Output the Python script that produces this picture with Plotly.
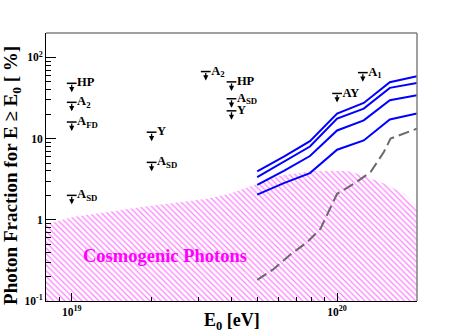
import math
import plotly.graph_objects as go

# ---------------- data ----------------
# cosmogenic photon band (upper edge), E in eV, fraction in %
energy_cosmo = [8.0e18, 1.01e19, 1.81e19, 3.23e19, 3.96e19, 5.0e19, 6.1e19,
                8.1e19, 1.09e20, 1.23e20, 1.5e20, 1.78e20, 2.0e20]
frac_cosmo = [0.89, 1.08, 1.43, 1.82, 2.11, 2.8, 3.52,
              3.98, 3.98, 3.6, 2.8, 2.11, 1.42]

# projected limits (blue lines)
energy_lines = [5.0e19, 6.3e19, 7.9e19, 1.0e20, 1.26e20, 1.58e20, 2.0e20]
line_a = [3.95, 6.0, 9.3, 20.4, 27.5, 49.5, 58.7]
line_b = [3.36, 5.2, 8.0, 17.7, 23.4, 42.2, 48.5]
line_c = [2.7, 4.0, 6.1, 12.6, 16.8, 29.7, 34.3]
line_d = [2.04, 2.83, 3.76, 7.3, 9.5, 17.2, 20.4]

# dashed grey curve
energy_dash = [5.0e19, 5.77e19, 6.67e19, 7.71e19, 8.65e19, 9.29e19, 1.0e20,
               1.156e20, 1.337e20, 1.50e20, 1.59e20, 2.0e20]
frac_dash = [0.182, 0.248, 0.373, 0.529, 0.774, 1.24, 2.09,
             2.78, 3.87, 6.84, 10.0, 13.3]

# upper limits
ul_energy = [1e19, 1e19, 1e19, 1e19, 2e19, 2e19, 3.2e19, 4e19, 4e19, 4e19, 1e20, 1.25e20]
ul_frac = [48, 28, 16, 2.0, 12, 5.1, 67, 50, 31, 22, 36, 65]
ul_label = ["HP", "A<sub>2</sub>", "A<sub>FD</sub>", "A<sub>SD</sub>", "Y",
            "A<sub>SD</sub>", "A<sub>2</sub>", "HP", "A<sub>SD</sub>", "Y",
            "AY", "A<sub>1</sub>"]

x_ticks = [1e19, 1e20]
x_ticktext = ["10<sup>19</sup>", "10<sup>20</sup>"]
y_ticks = [0.1, 1, 10, 100]
y_ticktext = ["10<sup>-1</sup>", "1", "10", "10<sup>2</sup>"]
x_minor = [9e18] + [k * 1e19 for k in range(2, 10)] + [2e20]
y_minor = [k * 0.1 for k in range(2, 10)] + [k * 1.0 for k in range(2, 10)] + \
          [k * 10.0 for k in range(2, 10)] + [200]

x_range = [8e18, 2e20]
y_range = [0.1, 200]

SERIF = "Liberation Serif"

fig = go.Figure()

# hatched cosmogenic region
fig.add_trace(go.Scatter(
    x=energy_cosmo + [energy_cosmo[-1], energy_cosmo[0]],
    y=frac_cosmo + [y_range[0], y_range[0]],
    mode="lines", fill="toself", line=dict(width=0),
    fillcolor="rgba(0,0,0,0)",
    fillpattern=dict(shape="\\", fgcolor="#ff00ff", bgcolor="rgba(255,255,255,0)",
                     size=4, solidity=0.3),
    hoverinfo="skip", showlegend=False))

# dashed curve
fig.add_trace(go.Scatter(x=energy_dash, y=frac_dash, mode="lines",
                         line=dict(color="#6a6a6a", width=2, dash="11px,5px"),
                         showlegend=False, hoverinfo="skip"))

for vals in (line_a, line_b, line_c, line_d):
    fig.add_trace(go.Scatter(x=energy_lines, y=vals, mode="lines",
                             line=dict(color="#0000ff", width=2),
                             showlegend=False, hoverinfo="skip"))

# upper limit bars + labels
fig.add_trace(go.Scatter(
    x=ul_energy, y=ul_frac, mode="markers+text",
    marker=dict(symbol="line-ew", size=7, line=dict(width=1.5, color="black"), color="black"),
    text=ul_label, textposition="middle right",
    textfont=dict(family=SERIF, size=12.5, color="black", weight="bold"),
    showlegend=False, hoverinfo="skip"))

annotations = []
for e, f in zip(ul_energy, ul_frac):
    annotations.append(dict(
        x=math.log10(e), y=math.log10(f), xref="x", yref="y",
        text="", showarrow=True,
        ax=0, ay=-9, axref="pixel", ayref="pixel", yshift=-9,
        arrowhead=2, arrowsize=0.8, arrowwidth=1.3, arrowcolor="black"))

annotations.append(dict(
    x=math.log10(2.25e19), y=math.log10(0.36), xref="x", yref="y",
    text="Cosmogenic Photons", showarrow=False,
    font=dict(family=SERIF, size=18.5, color="#ff00ff", weight="bold")))

annotations.append(dict(
    x=-0.092, y=0.47, xref="paper", yref="paper",
    text="Photon Fraction for E ≥ E<sub>0</sub> [ %]", textangle=-90,
    showarrow=False, xanchor="center", yanchor="middle",
    font=dict(family=SERIF, size=19, color="black", weight="bold")))

annotations.append(dict(
    x=0.501, y=-0.075, xref="paper", yref="paper",
    text="E<sub>0</sub> [eV]", showarrow=False, xanchor="center", yanchor="middle",
    font=dict(family=SERIF, size=18, color="black", weight="bold")))

fig.update_layout(
    width=463, height=333,
    margin=dict(l=46, r=46, t=33, b=32, autoexpand=False),
    paper_bgcolor="white", plot_bgcolor="white",
    font=dict(family=SERIF),
    annotations=annotations,
    shapes=[
        dict(type="line", xref="paper", yref="paper", x0=0, x1=1, y0=1, y1=1,
             line=dict(color="#808080", width=1.5)),
        dict(type="line", xref="paper", yref="paper", x0=1, x1=1, y0=0, y1=1,
             line=dict(color="#808080", width=1.5)),
    ],
)

fig.update_xaxes(
    type="log", range=[math.log10(x_range[0]), math.log10(x_range[1])],
    showgrid=False, zeroline=False, showline=True, linecolor="black", linewidth=1,
    ticks="inside", ticklen=8, tickcolor="black", tickwidth=1,
    tickvals=x_ticks, ticktext=x_ticktext, automargin=False,
    tickfont=dict(family=SERIF, size=11.5, color="black", weight="bold"),
    minor=dict(tickvals=x_minor, ticks="inside", ticklen=4, tickcolor="black", showgrid=False),
)
fig.update_yaxes(
    type="log", range=[math.log10(y_range[0]), math.log10(y_range[1])],
    showgrid=False, zeroline=False, showline=True, linecolor="black", linewidth=1,
    ticks="inside", ticklen=10, tickcolor="black", tickwidth=1,
    tickvals=y_ticks, ticktext=y_ticktext, automargin=False,
    tickfont=dict(family=SERIF, size=11.5, color="black", weight="bold"),
    minor=dict(tickvals=y_minor, ticks="inside", ticklen=5, tickcolor="black", showgrid=False),
)

fig.write_html("out.html", config={"displayModeBar": False},
               post_script="document.body.style.margin='0';")
